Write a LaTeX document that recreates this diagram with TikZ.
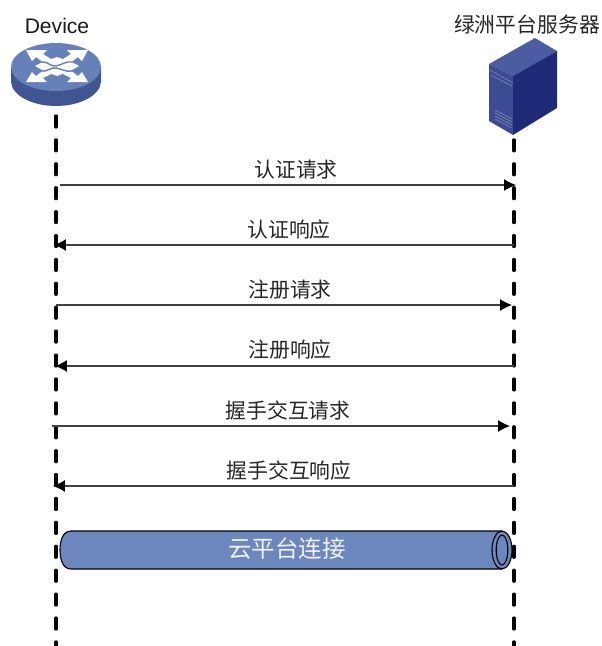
\documentclass[tikz,border=0pt]{standalone}
\usepackage{fontspec}
\setmainfont{Liberation Sans}
\newfontfamily\cjk{Noto Sans CJK SC}[Scale=1.0]
\usetikzlibrary{arrows.meta}
\definecolor{tubeblue}{HTML}{6C86BE}
\definecolor{routertop}{HTML}{6680B8}
\definecolor{routerside}{HTML}{3F5690}
\definecolor{srvtop}{HTML}{4C5CA0}
\definecolor{srvfront}{HTML}{3D4C92}
\definecolor{srvside}{HTML}{1F2B78}
\tikzset{
  lifeline/.style={line width=2.3pt,line cap=round,dash pattern=on 7.8pt off 9.2pt},
  msg/.style={line width=0.8pt,color=black!75,-{Latex[length=8.5pt,width=8.5pt,color=black]}},
  msglabel/.style={font=\cjk\fontsize{14.8}{16}\selectfont,color=black!85},
}
\begin{document}
\begin{tikzpicture}[x=0.025cm,y=-0.025cm]
\useasboundingbox (0,0) rectangle (601,646);
\coordinate (devtop) at (56,116);
\coordinate (devbot) at (56,646);
\coordinate (srvtopend) at (514,116);
\coordinate (srvbot) at (514,646);
\draw[lifeline] (devtop) -- (devbot);
\draw[lifeline] (srvtopend) -- (srvbot);
\node[font=\fontsize{15}{17}\selectfont,color=black!90] (device) at (57,26) {Device};
\node[msglabel] (server) at (527,25) {绿洲平台服务器};
\fill[routerside] (11,67) -- (11,81) arc[start angle=180,end angle=0,x radius=45,y radius=25] -- (101,67) -- cycle;
\fill[routertop] (56,67) ellipse (45 and 24);
\fill[white] (26,50) -- (47,50) -- (43,54) -- (51,59) -- (44,63) -- (36,57) -- (32,61) -- cycle;
\fill[white] (88,50) -- (67,50) -- (71,54) -- (63,59) -- (70,63) -- (78,57) -- (82,61) -- cycle;
\fill[white] (26,82) -- (47,82) -- (43,78) -- (51,74) -- (44,70) -- (36,76) -- (32,72) -- cycle;
\fill[white] (88,82) -- (67,82) -- (71,78) -- (63,74) -- (70,70) -- (78,76) -- (82,72) -- cycle;
\fill[white] (35,66) to [out=30,in=200] (57,57) to [out=-20,in=150] (79,66) to [out=210,in=20] (57,76) to [out=160,in=-30] (35,66);
\draw[routertop,line width=1pt] (42,62) to [out=10,in=190] (56,66) to [out=10,in=170] (72,62);
\draw[routertop,line width=1pt] (42,71) to [out=-10,in=170] (56,68) to [out=-10,in=190] (72,71);
\fill[srvtop] (489,64) -- (535,38) -- (557,51) -- (513,76) -- cycle;
\fill[srvfront] (489,64) -- (513,76) -- (513,135) -- (489,121) -- cycle;
\fill[srvside] (513,76) -- (557,51) -- (557,108) -- (513,135) -- cycle;
\draw[srvtop!70!white,line width=0.4pt] (490,70) -- (513,83);
\draw[srvtop!70!white,line width=0.4pt] (491,75) -- (512,86);
\draw[srvtop!70!white,line width=0.4pt] (495,110) -- (512,119);
\draw[srvtop!70!white,line width=0.4pt] (495,113) -- (512,122);
\draw[srvtop!70!white,line width=0.4pt] (495,116) -- (512,125);
\draw[srvtop!70!white,line width=0.4pt] (495,119) -- (512,128);
\coordinate (a1) at (60,185);
\coordinate (b1) at (516,185);
\coordinate (a2) at (514,245);
\coordinate (b2) at (54,245);
\coordinate (a3) at (56,305);
\coordinate (b3) at (512,305);
\coordinate (a4) at (514,366);
\coordinate (b4) at (55,366);
\coordinate (a5) at (52,426);
\coordinate (b5) at (510,426);
\coordinate (a6) at (514,486);
\coordinate (b6) at (53,486);
\draw[msg] (a1) -- (b1);
\draw[msg] (a2) -- (b2);
\draw[msg] (a3) -- (b3);
\draw[msg] (a4) -- (b4);
\draw[msg] (a5) -- (b5);
\draw[msg] (a6) -- (b6);
\node[msglabel] (authreq) at (296,170) {认证请求};
\node[msglabel] (authresp) at (289,230) {认证响应};
\node[msglabel] (regreq) at (290,290) {注册请求};
\node[msglabel] (regresp) at (290,350) {注册响应};
\node[msglabel] (shakereq) at (288,411) {握手交互请求};
\node[msglabel] (shakeresp) at (289,471) {握手交互响应};
\draw[fill=tubeblue,line width=0.8pt] (502,531) -- (71,531) to [out=180,in=90] (60,550) to [out=-90,in=180] (71,569) -- (502,569);
\draw[fill=tubeblue,line width=0.8pt] (502,550) ellipse (10 and 19);
\draw[fill=tubeblue,line width=0.8pt] (502,550) ellipse (5.8 and 15);
\node[font=\cjk\fontsize{16.7}{18}\selectfont,color=white!90!tubeblue] (link) at (287,549) {云平台连接};
\end{tikzpicture}
\end{document}
